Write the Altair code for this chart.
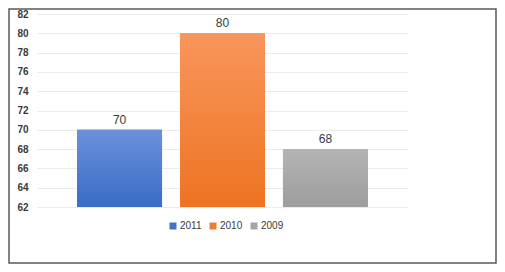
import altair as alt
import pandas as pd

YEARS = ["2011", "2010", "2009"]
VALUES = [70, 80, 68]
Y_TICKS = [62, 64, 66, 68, 70, 72, 74, 76, 78, 80, 82]
BASE = 62

SOLID = ["#4472C4", "#ED7D31", "#A5A5A5"]
GRAD = {
    "2011": ("#6b91dc", "#3a6bc6"),
    "2010": ("#f9965c", "#ee7322"),
    "2009": ("#b4b4b4", "#9d9d9d"),
}

df = pd.DataFrame({"year": YEARS, "value": VALUES, "base": [BASE] * len(YEARS)})

FONT = "Liberation Sans"
TXT = "#3a3a3a"

x = alt.X("year:N", sort=YEARS,
          scale=alt.Scale(domain=YEARS, paddingInner=0.175, paddingOuter=0.39),
          axis=None)
y = alt.Y("value:Q",
          scale=alt.Scale(domain=[Y_TICKS[0], Y_TICKS[-1]], zero=False, nice=False),
          axis=alt.Axis(values=Y_TICKS, title=None, domain=False, ticks=False,
                        labelPadding=9, labelFont=FONT, labelFontWeight="bold",
                        labelFontSize=10, labelColor=TXT, grid=True,
                        gridColor="#ebebeb", gridWidth=1))

frame = alt.Chart(pd.DataFrame({"f": [0]})).mark_rect(
    fillOpacity=0, stroke="#595959", strokeWidth=1.5
).encode(x=alt.value(-28), x2=alt.value(459), y=alt.value(-5), y2=alt.value(249))

base_bars = alt.Chart(df).mark_bar().encode(
    x=x, y=y, y2="base:Q",
    color=alt.Color("year:N", scale=alt.Scale(domain=YEARS, range=SOLID),
                    legend=alt.Legend(title=None, orient="none", direction="horizontal",
                                      legendX=131, legendY=207, symbolType="square",
                                      symbolSize=49, symbolStrokeWidth=0,
                                      labelFont=FONT, labelFontSize=10, labelColor=TXT,
                                      labelOffset=2, columnPadding=6)),
)

layers = [frame, base_bars]
for yr in YEARS:
    top, bot = GRAD[yr]
    g = alt.LinearGradient(gradient="linear", x1=0, x2=0, y1=0, y2=1,
                           stops=[alt.GradientStop(color=top, offset=0),
                                  alt.GradientStop(color=bot, offset=1)])
    layers.append(
        alt.Chart(df).transform_filter(alt.datum.year == yr)
        .mark_bar(color=g).encode(x=x, y=y, y2="base:Q")
    )

labels = alt.Chart(df).mark_text(
    baseline="alphabetic", dy=-6, font=FONT, fontSize=12, color=TXT
).encode(x=x, y=y, text="value:Q")
layers.append(labels)

chart = alt.layer(*layers).properties(
    width=371, height=193,
    autosize=alt.AutoSizeParams(type="none"),
    padding={"left": 29, "top": 6, "right": 89, "bottom": 57},
).configure(background="white", view=alt.ViewConfig(strokeWidth=0))

chart.save("out.html", embed_options={"renderer": "svg", "actions": False})
